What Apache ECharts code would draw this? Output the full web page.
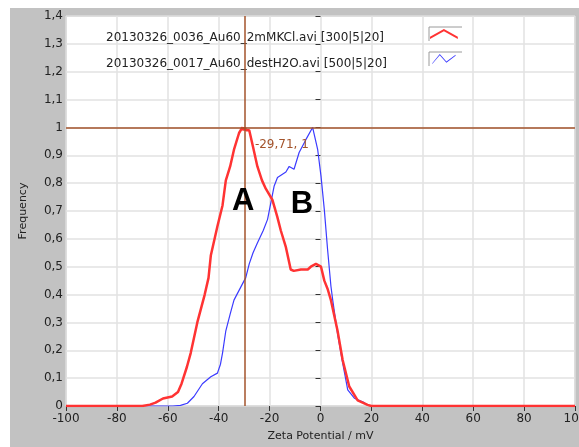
<!DOCTYPE html>
<html>
<head>
<meta charset="utf-8">
<script src="https://cdn.jsdelivr.net/npm/echarts@6.0.0/dist/echarts.min.js"></script>
<style>
    html, body { margin: 0; padding: 0; background: #fff; }
    #chart { position: absolute; left: 10px; top: 8px; width: 569px; height: 439px; }
</style>
</head>
<body>
<div id="chart"></div>
<script>
// 曲线名称（图例）
var nameA = '20130326_0036_Au60_2mMKCl.avi [300|5|20]';
var nameB = '20130326_0017_Au60_destH2O.avi [500|5|20]';

// A: 2mM KCl
var zetaA = [-100, -70, -67, -64.8, -61.9, -58.3, -56, -54.6, -52.5, -51, -48.4, -45.5, -44, -43.1, -40.5, -38.5,
    -37.2, -35.5, -34, -32, -30.7, -30.2, -29.7, -29.2, -28, -26.5, -24.8, -23, -21.5, -18.9, -17, -15.6, -13.6, -11.7,
    -10.5, -7.7, -5, -3.8, -1.8, 0.2, 1.5, 2.8, 4.1, 6.7, 8.7, 11.3, 14.6, 18.5, 20, 100];
var freqA = [0, 0, 0.005, 0.012, 0.027, 0.034, 0.05, 0.08, 0.14, 0.19, 0.30, 0.40, 0.46, 0.54, 0.645, 0.72,
    0.81, 0.86, 0.92, 0.98, 1.0, 0.99, 1.0, 0.99, 0.99, 0.93, 0.86, 0.81, 0.78, 0.74, 0.68, 0.63, 0.57, 0.49,
    0.485, 0.49, 0.49, 0.50, 0.51, 0.50, 0.45, 0.42, 0.38, 0.27, 0.165, 0.07, 0.02, 0.004, 0, 0];

// B: dest. H2O
var zetaB = [-69, -58, -55, -52.3, -49.7, -46.4, -43.1, -40.5, -39.3, -38.5, -37.2, -35.5, -34, -30, -29.4, -28,
    -26.5, -24.8, -22.5, -20.8, -19.5, -18.2, -16.9, -13.6, -12.3, -10.4, -8.4, -5.7, -3.1, -1.1, 0.2, 1.5, 2.8,
    4.1, 4.8, 6.7, 8.7, 10.7, 13.3, 17.2, 18.5, 19.5];
var freqB = [0, 0, 0.002, 0.01, 0.034, 0.08, 0.105, 0.118, 0.15, 0.19, 0.27, 0.33, 0.38, 0.45, 0.46, 0.51,
    0.55, 0.585, 0.63, 0.67, 0.73, 0.79, 0.82, 0.84, 0.86, 0.85, 0.91, 0.957, 1.0, 0.92, 0.825, 0.705, 0.56,
    0.43, 0.38, 0.26, 0.155, 0.058, 0.028, 0.012, 0.003, 0];

// 游标位置
var cursorX = -29.71;
var cursorY = 1;

// 标注 A / B
var annotNames = ['A', 'B'];
var annotX = [-30.4, -7.3];
var annotY = [0.735, 0.722];

var uiFont = 'DejaVu Sans';
var cursorColor = '#a3532b';

function pairs(xs, ys) {
    var out = [];
    for (var i = 0; i < xs.length; i++) {
        out.push([xs[i], ys[i]]);
    }
    return out;
}

function commaFmt(v) {
    return String(+v.toFixed(1)).replace('.', ',');
}

var markData = [{
    coord: [cursorX, cursorY],
    symbolSize: 0,
    label: {
        show: true,
        position: 'right',
        distance: 10,
        offset: [0, 17],
        color: cursorColor,
        fontFamily: uiFont,
        fontSize: 12,
        formatter: String(cursorX).replace('.', ',') + ', ' + String(cursorY).replace('.', ',')
    }
}];
for (var k = 0; k < annotNames.length; k++) {
    markData.push({
        coord: [annotX[k], annotY[k]],
        symbolSize: 0,
        label: {
            show: true,
            position: 'inside',
            color: '#000',
            fontFamily: 'Liberation Sans',
            fontWeight: 'bold',
            fontSize: 31,
            formatter: annotNames[k]
        }
    });
}

var iconA = 'path://M0,9 L16,0 L32,9 L32,11.5 L16,2.5 L0,11.5 Z';
var iconB = 'path://M0,11 L9,0 L17,9 L28,1 L28,2.2 L17,10.4 L9,1.4 L0,12 Z';

var chart = echarts.init(document.getElementById('chart'));
var option = {
    animation: false,
    backgroundColor: '#c2c2c2',
    grid: {
        left: 56,
        top: 8,
        right: 4,
        bottom: 41,
        outerBoundsMode: 'none', // v6: 不要为了标签收缩绘图区
        show: true,
        backgroundColor: '#fff',
        borderColor: '#a8a8a8',
        borderWidth: 1
    },
    legend: [
        { // 图例文字
            orient: 'vertical',
            left: 90,
            top: 24,
            icon: 'none',
            itemWidth: 1,
            itemHeight: 11,
            itemGap: 14,
            padding: 0,
            selectedMode: false,
            itemStyle: { opacity: 0 },
            lineStyle: { opacity: 0 },
            data: [nameA, nameB],
            textStyle: { fontFamily: uiFont, fontSize: 12, color: '#222' }
        },
        { // 图例图标（在文字右侧）
            orient: 'vertical',
            left: 420,
            top: 21,
            itemWidth: 31,
            itemHeight: 10,
            itemGap: 15,
            padding: 0,
            selectedMode: false,
            data: [{ name: nameA, icon: iconA }, { name: nameB, icon: iconB }],
            formatter: function () { return ''; },
            textStyle: { fontSize: 8, lineHeight: 10 }
        }
    ],
    graphic: [
        { type: 'polyline', shape: { points: [[419, 33], [419, 19], [452, 19]] }, style: { stroke: '#9a9a9a', lineWidth: 1, fill: null } },
        { type: 'polyline', shape: { points: [[419, 58], [419, 44], [452, 44]] }, style: { stroke: '#9a9a9a', lineWidth: 1, fill: null } }
    ],
    xAxis: {
        type: 'value',
        min: -100,
        max: 100,
        interval: 20,
        name: 'Zeta Potential / mV',
        nameLocation: 'middle',
        nameGap: 25,
        nameTextStyle: { fontFamily: uiFont, fontSize: 11, color: '#222' },
        axisLine: { show: false },
        axisTick: { show: true, length: 5, lineStyle: { color: '#333' } },
        axisLabel: { fontFamily: uiFont, fontSize: 12, color: '#222', margin: 7 },
        splitLine: { show: true, lineStyle: { color: '#e2e2e2', width: 1.5 } }
    },
    yAxis: {
        type: 'value',
        min: 0,
        max: 1.4,
        interval: 0.1,
        name: 'Frequency',
        nameLocation: 'middle',
        nameGap: 37,
        nameTextStyle: { fontFamily: uiFont, fontSize: 11, color: '#222' },
        axisLine: { show: false },
        axisTick: { show: true, length: 5, lineStyle: { color: '#333' } },
        axisLabel: { fontFamily: uiFont, fontSize: 12, color: '#222', margin: 3, formatter: commaFmt },
        splitLine: { show: true, lineStyle: { color: '#e2e2e2', width: 1.5 } }
    },
    series: [
        {
            name: nameA,
            type: 'line',
            z: 3,
            data: pairs(zetaA, freqA),
            showSymbol: false,
            symbol: 'none',
            color: '#ff3333',
            lineStyle: { color: '#ff3333', width: 2.5 },
            markLine: {
                silent: true,
                symbol: 'none',
                label: { show: false },
                lineStyle: { color: cursorColor, width: 1.5, type: 'solid' },
                data: [{ xAxis: cursorX }, { yAxis: cursorY }]
            },
            markPoint: {
                silent: true,
                symbol: 'circle',
                data: markData
            }
        },
        {
            name: nameB,
            type: 'line',
            z: 2,
            data: pairs(zetaB, freqB),
            showSymbol: false,
            symbol: 'none',
            color: '#3b3bff',
            lineStyle: { color: '#3b3bff', width: 1.2 }
        }
    ]
};
chart.setOption(option);
</script>
</body>
</html>
